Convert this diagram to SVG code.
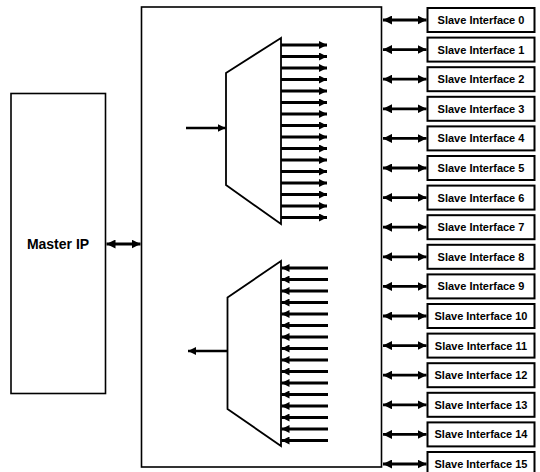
<svg xmlns="http://www.w3.org/2000/svg" width="540" height="472" viewBox="0 0 540 472">
<style>
.box{fill:#fff;stroke:#000;stroke-width:1.6}
.sbox{fill:#fff;stroke:#000;stroke-width:2}
.mux{fill:none;stroke:#000;stroke-width:1.8;stroke-linejoin:miter}
.lbl{font-family:"Liberation Sans",Arial,sans-serif;font-weight:bold;fill:#000;text-anchor:middle}
.sl{font-size:11px}
.ml{font-size:14px}
.bi{stroke:#000;stroke-width:2.8;fill:none;marker-start:url(#hs);marker-end:url(#he)}
.sa{stroke:#000;stroke-width:3;fill:none;marker-end:url(#sh)}
.thin{stroke:#000;stroke-width:2.4;fill:none;marker-end:url(#sh)}
</style>
<defs>
<marker id="he" markerUnits="userSpaceOnUse" markerWidth="9" markerHeight="9" refX="9" refY="4.5" orient="auto"><path d="M0,0 L9,4.5 L0,9 z" fill="#000"/></marker>
<marker id="hs" markerUnits="userSpaceOnUse" markerWidth="9" markerHeight="9" refX="0" refY="4.5" orient="auto"><path d="M9,0 L0,4.5 L9,9 z" fill="#000"/></marker>
<marker id="sh" markerUnits="userSpaceOnUse" markerWidth="8" markerHeight="8" refX="8" refY="4" orient="auto"><path d="M0,0 L8,4 L0,8 z" fill="#000"/></marker>
</defs>

<g id="master">
<rect class="box" x="11" y="93.5" width="94.5" height="300"/>
<text class="lbl ml" x="58" y="249">Master IP</text>
</g>

<g id="crossbar">
<rect class="box" x="141.5" y="7" width="240" height="460"/>
</g>

<g id="mux-upper">
<polygon class="mux" points="281,38 226,73 226,185 281,224"/>
</g>

<g id="mux-lower">
<polygon class="mux" points="281,261 227.5,297.5 227.5,409 281,446"/>
</g>

<g id="slave0"><rect class="sbox" x="427.5" y="8" width="107" height="24"/><text class="lbl sl" x="481" y="24">Slave Interface 0</text></g>
<g id="slave1"><rect class="sbox" x="427.5" y="37.6" width="107" height="24"/><text class="lbl sl" x="481" y="53.6">Slave Interface 1</text></g>
<g id="slave2"><rect class="sbox" x="427.5" y="67.2" width="107" height="24"/><text class="lbl sl" x="481" y="83.2">Slave Interface 2</text></g>
<g id="slave3"><rect class="sbox" x="427.5" y="96.8" width="107" height="24"/><text class="lbl sl" x="481" y="112.8">Slave Interface 3</text></g>
<g id="slave4"><rect class="sbox" x="427.5" y="126.4" width="107" height="24"/><text class="lbl sl" x="481" y="142.4">Slave Interface 4</text></g>
<g id="slave5"><rect class="sbox" x="427.5" y="156" width="107" height="24"/><text class="lbl sl" x="481" y="172">Slave Interface 5</text></g>
<g id="slave6"><rect class="sbox" x="427.5" y="185.6" width="107" height="24"/><text class="lbl sl" x="481" y="201.6">Slave Interface 6</text></g>
<g id="slave7"><rect class="sbox" x="427.5" y="215.2" width="107" height="24"/><text class="lbl sl" x="481" y="231.2">Slave Interface 7</text></g>
<g id="slave8"><rect class="sbox" x="427.5" y="244.8" width="107" height="24"/><text class="lbl sl" x="481" y="260.8">Slave Interface 8</text></g>
<g id="slave9"><rect class="sbox" x="427.5" y="274.4" width="107" height="24"/><text class="lbl sl" x="481" y="290.4">Slave Interface 9</text></g>
<g id="slave10"><rect class="sbox" x="427.5" y="304" width="107" height="24"/><text class="lbl sl" x="481" y="320">Slave Interface 10</text></g>
<g id="slave11"><rect class="sbox" x="427.5" y="333.6" width="107" height="24"/><text class="lbl sl" x="481" y="349.6">Slave Interface 11</text></g>
<g id="slave12"><rect class="sbox" x="427.5" y="363.2" width="107" height="24"/><text class="lbl sl" x="481" y="379.2">Slave Interface 12</text></g>
<g id="slave13"><rect class="sbox" x="427.5" y="392.8" width="107" height="24"/><text class="lbl sl" x="481" y="408.8">Slave Interface 13</text></g>
<g id="slave14"><rect class="sbox" x="427.5" y="422.4" width="107" height="24"/><text class="lbl sl" x="481" y="438.4">Slave Interface 14</text></g>
<g id="slave15"><rect class="sbox" x="427.5" y="452" width="107" height="24"/><text class="lbl sl" x="481" y="468">Slave Interface 15</text></g>

<g id="connectors">
<line class="bi" x1="106.5" y1="244" x2="140.5" y2="244"/>
<line class="bi" x1="383" y1="20" x2="426.5" y2="20"/>
<line class="bi" x1="383" y1="49.6" x2="426.5" y2="49.6"/>
<line class="bi" x1="383" y1="79.2" x2="426.5" y2="79.2"/>
<line class="bi" x1="383" y1="108.8" x2="426.5" y2="108.8"/>
<line class="bi" x1="383" y1="138.4" x2="426.5" y2="138.4"/>
<line class="bi" x1="383" y1="168" x2="426.5" y2="168"/>
<line class="bi" x1="383" y1="197.6" x2="426.5" y2="197.6"/>
<line class="bi" x1="383" y1="227.2" x2="426.5" y2="227.2"/>
<line class="bi" x1="383" y1="256.8" x2="426.5" y2="256.8"/>
<line class="bi" x1="383" y1="286.4" x2="426.5" y2="286.4"/>
<line class="bi" x1="383" y1="316" x2="426.5" y2="316"/>
<line class="bi" x1="383" y1="345.6" x2="426.5" y2="345.6"/>
<line class="bi" x1="383" y1="375.2" x2="426.5" y2="375.2"/>
<line class="bi" x1="383" y1="404.8" x2="426.5" y2="404.8"/>
<line class="bi" x1="383" y1="434.4" x2="426.5" y2="434.4"/>
<line class="bi" x1="383" y1="464" x2="426.5" y2="464"/>

<line class="thin" x1="186" y1="128" x2="225.5" y2="128"/>
<line class="thin" x1="227" y1="351" x2="188" y2="351"/>

<line class="sa" x1="281" y1="45" x2="327" y2="45"/>
<line class="sa" x1="281" y1="56.5" x2="327" y2="56.5"/>
<line class="sa" x1="281" y1="68" x2="327" y2="68"/>
<line class="sa" x1="281" y1="79.5" x2="327" y2="79.5"/>
<line class="sa" x1="281" y1="91" x2="327" y2="91"/>
<line class="sa" x1="281" y1="102.5" x2="327" y2="102.5"/>
<line class="sa" x1="281" y1="114" x2="327" y2="114"/>
<line class="sa" x1="281" y1="125.5" x2="327" y2="125.5"/>
<line class="sa" x1="281" y1="137" x2="327" y2="137"/>
<line class="sa" x1="281" y1="148.5" x2="327" y2="148.5"/>
<line class="sa" x1="281" y1="160" x2="327" y2="160"/>
<line class="sa" x1="281" y1="171.5" x2="327" y2="171.5"/>
<line class="sa" x1="281" y1="183" x2="327" y2="183"/>
<line class="sa" x1="281" y1="194.5" x2="327" y2="194.5"/>
<line class="sa" x1="281" y1="206" x2="327" y2="206"/>
<line class="sa" x1="281" y1="217.5" x2="327" y2="217.5"/>

<line class="sa" x1="328" y1="268" x2="281.5" y2="268"/>
<line class="sa" x1="328" y1="279.5" x2="281.5" y2="279.5"/>
<line class="sa" x1="328" y1="291" x2="281.5" y2="291"/>
<line class="sa" x1="328" y1="302.5" x2="281.5" y2="302.5"/>
<line class="sa" x1="328" y1="314" x2="281.5" y2="314"/>
<line class="sa" x1="328" y1="325.5" x2="281.5" y2="325.5"/>
<line class="sa" x1="328" y1="337" x2="281.5" y2="337"/>
<line class="sa" x1="328" y1="348.5" x2="281.5" y2="348.5"/>
<line class="sa" x1="328" y1="360" x2="281.5" y2="360"/>
<line class="sa" x1="328" y1="371.5" x2="281.5" y2="371.5"/>
<line class="sa" x1="328" y1="383" x2="281.5" y2="383"/>
<line class="sa" x1="328" y1="394.5" x2="281.5" y2="394.5"/>
<line class="sa" x1="328" y1="406" x2="281.5" y2="406"/>
<line class="sa" x1="328" y1="417.5" x2="281.5" y2="417.5"/>
<line class="sa" x1="328" y1="429" x2="281.5" y2="429"/>
<line class="sa" x1="328" y1="440.5" x2="281.5" y2="440.5"/>
</g>
</svg>
